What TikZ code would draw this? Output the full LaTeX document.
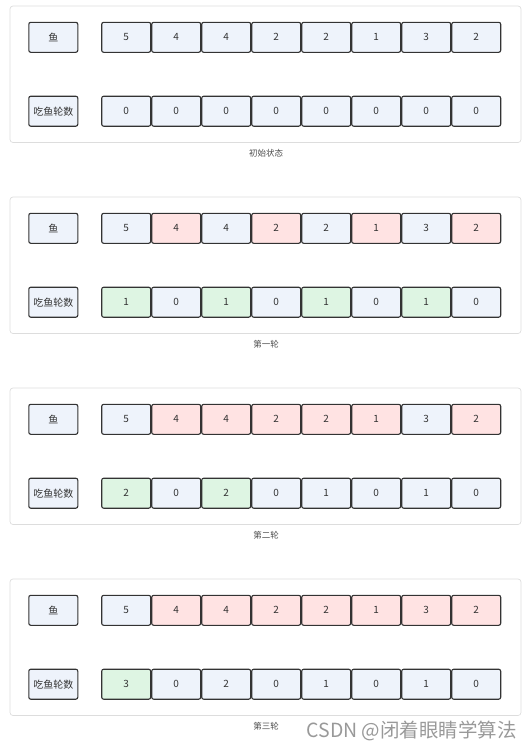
\documentclass[tikz,border=0pt]{standalone}
\usepackage{fontspec}
\setmainfont{Noto Sans CJK SC}
\usetikzlibrary{positioning}

\definecolor{cellb}{HTML}{EEF3FB}
\definecolor{cellr}{HTML}{FFE3E3}
\definecolor{cellg}{HTML}{DEF5E3}
\definecolor{edge}{HTML}{333333}
\definecolor{frame}{HTML}{DDDDDD}

\tikzset{
	cell/.style={draw=edge,line width=1.1pt,rounded corners=2pt,minimum width=49pt,minimum height=30pt,inner sep=0pt,font=\fontsize{10}{10}\selectfont,text=black!80},
	panel/.style={draw=frame,line width=.7pt,rounded corners=3pt},
	caption/.style={font=\fontsize{8.5}{9}\selectfont,text=black!70}
}

\begin{document}
\begin{tikzpicture}[x=1pt,y=-1pt]
	\useasboundingbox (0,0) rectangle (532,750);
	\foreach \p/\oy/\cap/\fish/\eat in {
		1/0/初始状态/{5/b,4/b,4/b,2/b,2/b,1/b,3/b,2/b}/{0/b,0/b,0/b,0/b,0/b,0/b,0/b,0/b},
		2/191/第一轮/{5/b,4/r,4/b,2/r,2/b,1/r,3/b,2/r}/{1/g,0/b,1/g,0/b,1/g,0/b,1/g,0/b},
		3/382/第二轮/{5/b,4/r,4/r,2/r,2/r,1/r,3/b,2/r}/{2/g,0/b,2/g,0/b,1/b,0/b,1/b,0/b},
		4/573/第三轮/{5/b,4/r,4/r,2/r,2/r,1/r,3/r,2/r}/{3/g,0/b,2/b,0/b,1/b,0/b,1/b,0/b}} {
		\begin{scope}[yshift=-\oy]
			\draw[panel] (10,6) rectangle (521,142.5);
			\node[cell,fill=cellb] (fish\p) at (53.3,37.3) {鱼};
			\node[cell,fill=cellb] (eat\p) at (53.3,111.2) {吃鱼轮数};
			\foreach \v/\c [count=\i] in \fish
				\node[cell,fill=cell\c] (f\p-\i) at (76.2+50*\i,37.3) {\v};
			\foreach \v/\c [count=\i] in \eat
				\node[cell,fill=cell\c] (e\p-\i) at (76.2+50*\i,111.2) {\v};
			\node[caption] (cap\p) at (266,153.5) {\cap};
		\end{scope}
	}
	\node[font=\fontsize{19.5}{20}\selectfont,text=black!40,anchor=west] (mark) at (303,731) {CSDN @闭着眼睛学算法};
\end{tikzpicture}
\end{document}
